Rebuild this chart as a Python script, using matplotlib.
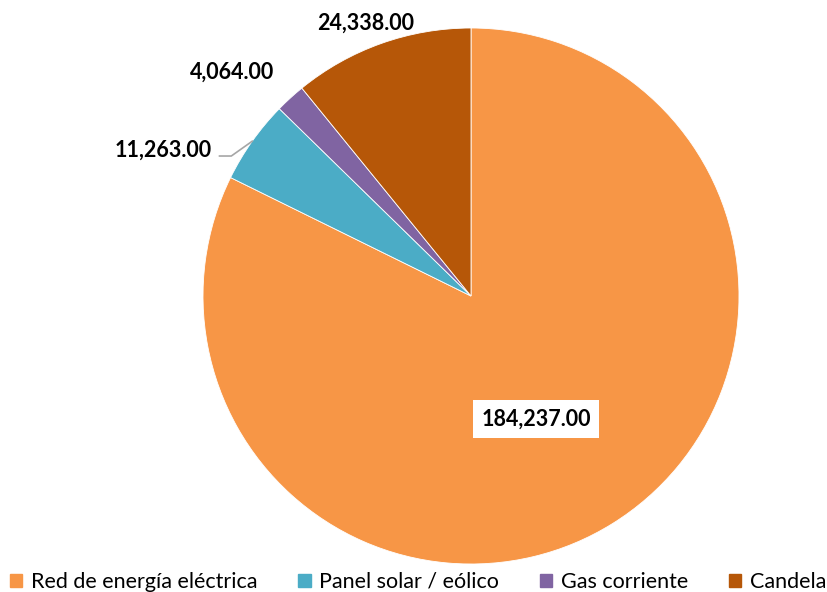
import matplotlib.pyplot as plt
import numpy as np

plt.rcParams['font.family'] = ['Lato', 'DejaVu Sans']

categories = ["Red de energía eléctrica", "Panel solar / eólico", "Gas corriente", "Candela"]
values = [184237.00, 11263.00, 4064.00, 24338.00]
labels = ["184,237.00", "11,263.00", "4,064.00", "24,338.00"]

colors = ["#F79646", "#4BACC6", "#8064A2", "#B65708"]
# (radius factor, angle offset in degrees) for each label, relative to wedge middle
label_pos = [(0.52, -4), (1.27, 10), (1.22, 4.5), (1.09, 1.5)]

fig = plt.figure(figsize=(8.28, 5.92), dpi=100)
ax = fig.add_axes([203 / 828, 28 / 592, 536 / 828, 536 / 592])

wedges, _ = ax.pie(values, colors=colors, startangle=90, counterclock=False,
                   wedgeprops=dict(edgecolor="white", linewidth=0.6))
ax.set_xlim(-1, 1)
ax.set_ylim(-1, 1)
ax.set_aspect("equal")
ax.axis("off")

for i, (w, lab) in enumerate(zip(wedges, labels)):
    mid = (w.theta1 + w.theta2) / 2 + label_pos[i][1]
    r = label_pos[i][0]
    x, y = r * np.cos(np.radians(mid)), r * np.sin(np.radians(mid))
    if i == 0:
        ax.text(x, y, lab, ha="center", va="center", fontsize=15.5, fontweight="bold",
                bbox=dict(facecolor="white", edgecolor="none", pad=6), clip_on=False)
    else:
        ax.text(x, y, lab, ha="center", va="center", fontsize=15.5, fontweight="bold",
                clip_on=False)
    if i == 1:
        wmid = np.radians((w.theta1 + w.theta2) / 2)
        ex, ey = np.cos(wmid), np.sin(wmid)
        ax.plot([x + 0.21, x + 0.254, ex], [y - 0.02, y - 0.02, ey], color="#A6A6A6",
                linewidth=1.2, clip_on=False)

handles = [plt.Rectangle((0, 0), 1, 1, color=c) for c in colors]
fig.legend(handles, categories, loc="lower left", ncol=4, frameon=False,
           fontsize=15.5, handlelength=0.57, handleheight=0.57, handletextpad=0.4,
           columnspacing=1.9, borderpad=0, borderaxespad=0,
           bbox_to_anchor=(10 / 828, 0.0))

fig.savefig("out.png", dpi=100)
